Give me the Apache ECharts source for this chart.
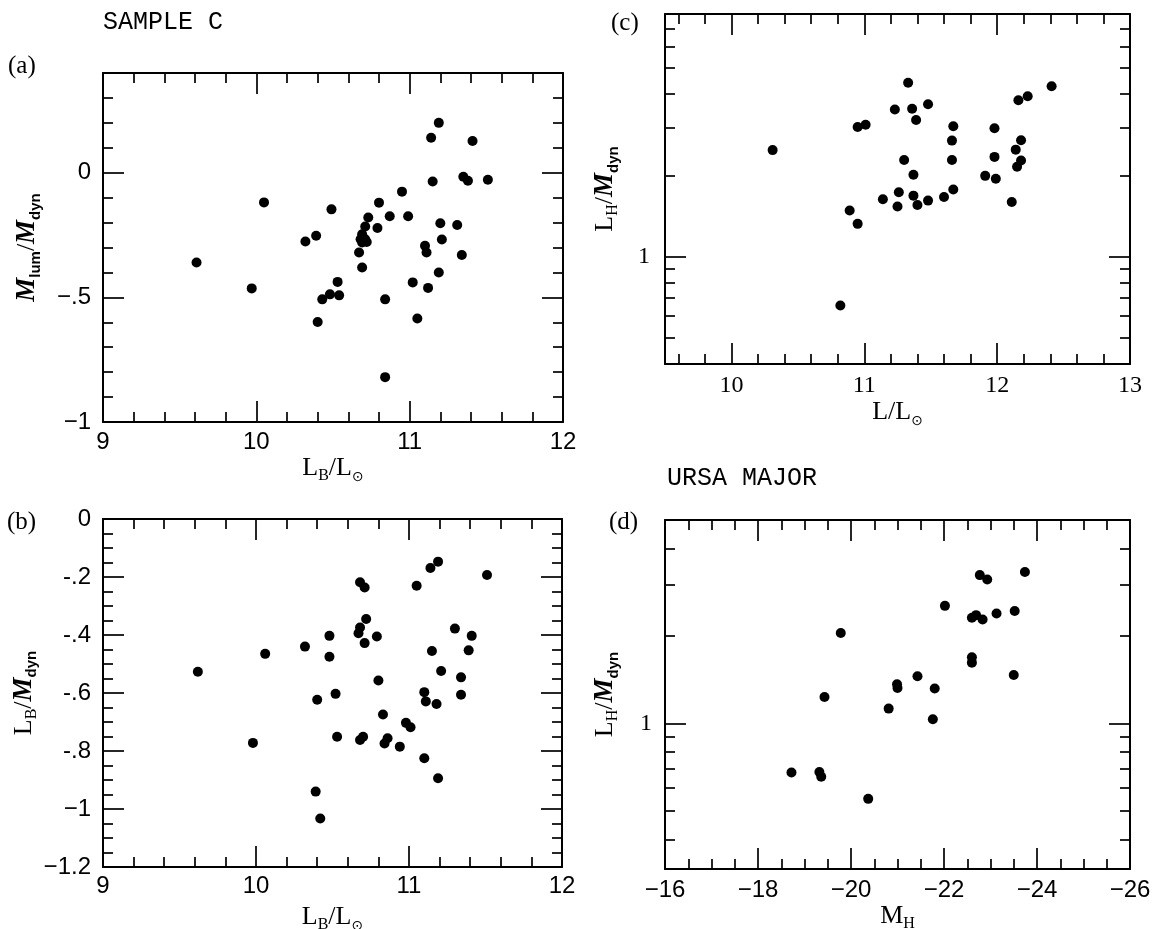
<!DOCTYPE html>
<html><head><meta charset="utf-8">
<script src="https://cdn.jsdelivr.net/npm/echarts@6/dist/echarts.min.js"></script>
<style>html,body{margin:0;padding:0;background:#fff}#c{width:1159px;height:929px}</style>
</head><body><div id="c"></div>
<script>
// ---------- DATA ----------
// (a) Sample C: log L_B/L_sun vs log M_lum/M_dyn
const aX = [9.61,9.97,10.05,10.32,10.39,10.40,10.43,10.49,10.48,10.53,10.54,10.67,10.69,10.69,10.68,10.71,10.72,10.69,10.71,10.73,10.79,10.80,10.84,10.84,10.87,10.95,10.99,11.02,11.05,11.10,11.11,11.12,11.14,11.15,11.19,11.19,11.20,11.21,11.31,11.34,11.35,11.38,11.41,11.51];
const aY = [-0.36,-0.464,-0.119,-0.276,-0.253,-0.599,-0.508,-0.147,-0.488,-0.438,-0.492,-0.32,-0.38,-0.247,-0.267,-0.267,-0.278,-0.28,-0.216,-0.18,-0.222,-0.12,-0.508,-0.82,-0.175,-0.076,-0.175,-0.44,-0.585,-0.293,-0.32,-0.462,0.14,-0.035,-0.4,0.2,-0.203,-0.268,-0.21,-0.33,-0.016,-0.032,0.127,-0.028];
// (b) Sample C: log L_B/L_sun vs log L_B/M_dyn
const bX = [9.62,9.98,10.06,10.32,10.39,10.40,10.42,10.48,10.48,10.52,10.53,10.68,10.71,10.72,10.68,10.67,10.71,10.79,10.80,10.83,10.68,10.70,10.84,10.86,10.94,10.98,11.01,11.05,11.10,11.10,11.11,11.14,11.19,11.15,11.18,11.19,11.21,11.30,11.34,11.34,11.39,11.41,11.51];
const bY = [-0.527,-0.772,-0.465,-0.44,-0.94,-0.623,-1.033,-0.403,-0.475,-0.603,-0.751,-0.218,-0.236,-0.345,-0.374,-0.394,-0.428,-0.405,-0.557,-0.674,-0.762,-0.751,-0.774,-0.756,-0.785,-0.703,-0.718,-0.23,-0.825,-0.597,-0.629,-0.169,-0.147,-0.455,-0.638,-0.894,-0.524,-0.378,-0.546,-0.606,-0.453,-0.403,-0.193];
// (c) log L/L_sun vs L_H/M_dyn (log axis)
const cX = [10.31,10.82,10.89,10.95,10.95,11.01,11.14,11.23,11.25,11.26,11.30,11.33,11.36,11.37,11.37,11.39,11.40,11.48,11.48,11.60,11.66,11.67,11.66,11.67,11.91,11.98,11.98,11.99,12.11,12.14,12.15,12.18,12.18,12.16,12.23,12.41];
const cY = [2.48,0.657,1.48,1.32,3.02,3.08,1.63,3.51,1.53,1.73,2.28,4.41,3.53,2.01,1.68,3.21,1.55,3.67,1.61,1.66,2.69,3.04,2.28,1.77,1.99,2.99,2.34,1.94,1.59,2.49,2.15,2.27,2.70,3.80,3.93,4.28];
// (d) Ursa Major: M_H vs L_H/M_dyn (log axis)
const dX = [-18.72,-19.32,-19.36,-19.43,-19.78,-20.37,-20.81,-20.99,-21.00,-21.43,-21.76,-21.80,-22.02,-22.60,-22.60,-22.60,-22.69,-22.83,-22.77,-22.93,-23.13,-23.52,-23.50,-23.74];
const dY = [0.679,0.682,0.656,1.235,2.05,0.551,1.126,1.365,1.326,1.455,1.035,1.32,2.54,1.69,1.62,2.31,2.36,2.28,3.24,3.13,2.39,2.44,1.47,3.32];

// ---------- TICK LABELS ----------
const abXLabelVals = [9, 10, 11, 12];
const abXLabelText = ['9', '10', '11', '12'];
const aYLabelVals = [-1, -0.5, 0];
const aYLabelText = ['\u22121', '\u2212.5', '0'];
const bYLabelVals = [-1.2, -1, -0.8, -0.6, -0.4, -0.2, 0];
const bYLabelText = ['\u22121.2', '\u22121', '-.8', '-.6', '-.4', '-.2', '0'];
const cXLabelVals = [10, 11, 12, 13];
const cXLabelText = ['10', '11', '12', '13'];
const logLabelVals = [1];
const logLabelText = ['1'];
const dXLabelVals = [-16, -18, -20, -22, -24, -26];
const dXLabelText = ['\u221216', '\u221218', '\u221220', '\u221222', '\u221224', '\u221226'];

// ---------- helpers ----------
function range(a, b, step) { const r = []; const n = Math.round((b - a) / step); for (let i = 0; i <= n; i++) r.push(+(a + i * step).toFixed(4)); return r; }
function without(list, majors) { return list.filter(v => !majors.some(m => Math.abs(m - v) < 1e-6)); }
function zip(xs, ys) { return xs.map((x, i) => [x, ys[i]]); }
function fmtFrom(vals, texts) { return v => { const i = vals.findIndex(t => Math.abs(t - v) < 1e-6); return i >= 0 ? texts[i] : ''; }; }

const SANS = 'Liberation Sans', SERIF = 'Liberation Serif', MONO = 'Liberation Mono';
const RICH = {
  r:  { fontFamily: SERIF, fontSize: 26, lineHeight: 32, color: '#000' },
  ri: { fontFamily: SERIF, fontSize: 27, fontStyle: 'italic', fontWeight: 'bold', lineHeight: 32, color: '#000' },
  s:  { fontFamily: SERIF, fontSize: 16, lineHeight: 21, verticalAlign: 'bottom', color: '#000' },
  sb: { fontFamily: SANS, fontSize: 15, fontWeight: 'bold', lineHeight: 21, verticalAlign: 'bottom', color: '#000' },
  so: { fontFamily: 'DejaVu Sans', fontSize: 14, lineHeight: 21, verticalAlign: 'bottom', color: '#000' }
};

const xAxes = [], yAxes = [];
function addAxes(list, kind, gridIndex, cfg) {
  const sides = kind === 'x' ? ['bottom', 'top'] : ['left', 'right'];
  const first = list.length;
  sides.forEach((pos, si) => {
    [true, false].forEach(isMajor => {
      const ax = {
        type: cfg.type, gridIndex: gridIndex, position: pos, min: cfg.min, max: cfg.max, inverse: !!cfg.inverse,
        axisLine: { show: isMajor, onZero: false, lineStyle: { color: '#000', width: 2 } },
        axisTick: { show: true, inside: true, length: isMajor ? 21 : 10,
          customValues: isMajor ? cfg.major : cfg.minor, lineStyle: { color: '#000', width: 1.7 } },
        axisLabel: { show: false },
        splitLine: { show: false }, minorTick: { show: false }, minorSplitLine: { show: false },
        axisPointer: { show: false }, silent: true
      };
      if (cfg.type === 'log') ax.logBase = 10;
      if (isMajor && si === 0) {
        ax.axisLabel = { show: true, customValues: cfg.labelVals, formatter: fmtFrom(cfg.labelVals, cfg.labelText),
          fontFamily: cfg.font, fontSize: 24, color: '#000', margin: cfg.labelMargin };
        ax.name = cfg.name; ax.nameLocation = 'middle'; ax.nameGap = cfg.nameGap;
        ax.nameTextStyle = { rich: RICH, color: '#000' };
      }
      list.push(ax);
    });
  });
  return first;
}

const grids = [
  { left: 103, top: 73, width: 460, height: 349 },
  { left: 103, top: 519, width: 459, height: 348 },
  { left: 665, top: 14, width: 465, height: 350 },
  { left: 665, top: 520, width: 465, height: 349 }
].map(g => Object.assign({ containLabel: false, outerBoundsMode: 'none' }, g));

// (a)
const axA = addAxes(xAxes, 'x', 0, { type: 'value', min: 9, max: 12, major: abXLabelVals, minor: without(range(9, 12, 0.2), abXLabelVals),
  labelVals: abXLabelVals, labelText: abXLabelText, font: SANS, labelMargin: 8, name: '{r|L}{s|B}{r|/L}{so|\u2299}', nameGap: 22 });
const ayA = addAxes(yAxes, 'y', 0, { type: 'value', min: -1, max: 0.4, major: aYLabelVals, minor: without(range(-1, 0.4, 0.1), aYLabelVals),
  labelVals: aYLabelVals, labelText: aYLabelText, font: SANS, labelMargin: 12, name: '{ri|M}{sb|lum}{r|/}{ri|M}{sb|dyn}', nameGap: 60 });
// (b)
const axB = addAxes(xAxes, 'x', 1, { type: 'value', min: 9, max: 12, major: abXLabelVals, minor: without(range(9, 12, 0.2), abXLabelVals),
  labelVals: abXLabelVals, labelText: abXLabelText, font: SANS, labelMargin: 7, name: '{r|L}{s|B}{r|/L}{so|\u2299}', nameGap: 34 });
const ayB = addAxes(yAxes, 'y', 1, { type: 'value', min: -1.2, max: 0, major: bYLabelVals, minor: without(range(-1.2, 0, 0.05), bYLabelVals),
  labelVals: bYLabelVals, labelText: bYLabelText, font: SANS, labelMargin: 12, name: '{r|L}{s|B}{r|/}{ri|M}{sb|dyn}', nameGap: 60 });
// (c)
const cMajX = [10, 11, 12];
const axC = addAxes(xAxes, 'x', 2, { type: 'value', min: 9.5, max: 13, major: cMajX, minor: without(range(9.6, 12.8, 0.2), cMajX),
  labelVals: cXLabelVals, labelText: cXLabelText, font: SERIF, labelMargin: 10, name: '{r|L/L}{so|\u2299}', nameGap: 27 });
const ayC = addAxes(yAxes, 'y', 2, { type: 'log', min: Math.pow(10, -0.4), max: Math.pow(10, 0.9), major: [1],
  minor: [0.5, 0.6, 0.7, 0.8, 0.9, 2, 3, 4, 5, 6, 7],
  labelVals: logLabelVals, labelText: logLabelText, font: SERIF, labelMargin: 15, name: '{r|L}{s|H}{r|/}{ri|M}{sb|dyn}', nameGap: 44 });
// (d)
const dMajX = [-18, -20, -22, -24];
const axD = addAxes(xAxes, 'x', 3, { type: 'value', min: -26, max: -16, inverse: true, major: dMajX, minor: without(range(-25.5, -16.5, 0.5), dMajX),
  labelVals: dXLabelVals, labelText: dXLabelText, font: SANS, labelMargin: 9, name: '{r|M}{s|H}', nameGap: 23 });
const ayD = addAxes(yAxes, 'y', 3, { type: 'log', min: Math.pow(10, -0.5), max: Math.pow(10, 0.7), major: [1],
  minor: [0.4, 0.5, 0.6, 0.7, 0.8, 0.9, 2, 3, 4],
  labelVals: logLabelVals, labelText: logLabelText, font: SERIF, labelMargin: 13, name: '{r|L}{s|H}{r|/}{ri|M}{sb|dyn}', nameGap: 44 });

function scatter(xi, yi, data) {
  return { type: 'scatter', xAxisIndex: xi, yAxisIndex: yi, data: data, symbol: 'circle', symbolSize: 10,
    itemStyle: { color: '#000', opacity: 1 }, silent: true, animation: false };
}

function txt(x, y, text, family, size, align) {
  return { type: 'text', x: x, y: y, silent: true,
    style: { text: text, fontFamily: family, fontSize: size, fill: '#000', align: align || 'left', verticalAlign: 'middle' } };
}

const chart = echarts.init(document.getElementById('c'), null, { renderer: 'canvas' });
chart.setOption({
  backgroundColor: '#fff',
  animation: false,
  grid: grids,
  xAxis: xAxes,
  yAxis: yAxes,
  series: [
    scatter(axA, ayA, zip(aX, aY)),
    scatter(axB, ayB, zip(bX, bY)),
    scatter(axC, ayC, zip(cX, cY)),
    scatter(axD, ayD, zip(dX, dY))
  ],
  graphic: [
    txt(103, 22, 'SAMPLE C', MONO, 25),
    txt(667, 478, 'URSA MAJOR', MONO, 25),
    txt(8, 66, '(a)', SERIF, 25),
    txt(7, 522, '(b)', SERIF, 25),
    txt(611, 23, '(c)', SERIF, 25),
    txt(609, 522, '(d)', SERIF, 25)
  ]
});
</script>
</body></html>
